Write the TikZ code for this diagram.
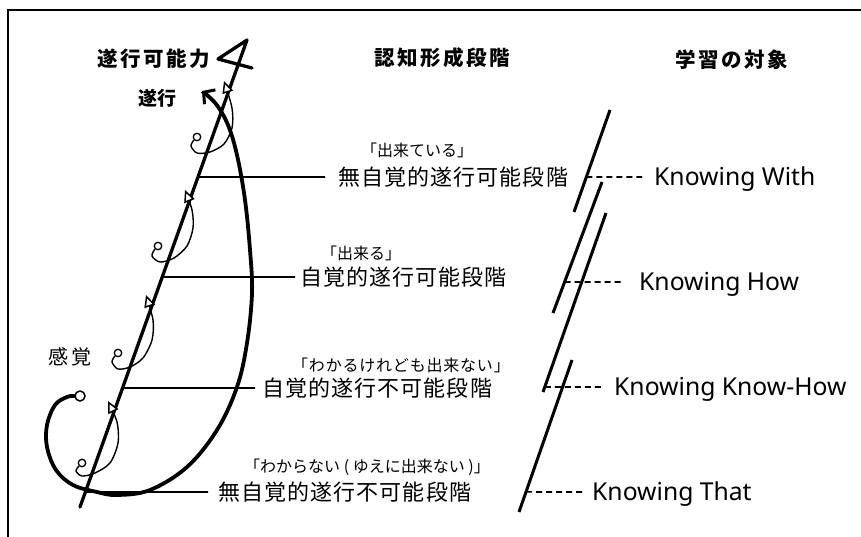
\documentclass[tikz,border=0pt]{standalone}
\usepackage{fontspec}
\setmainfont{Noto Sans}
\newfontfamily\jp{Noto Sans CJK JP}
\newfontfamily\jpls[LetterSpace=5]{Noto Sans CJK JP}
\newfontfamily\jpwide[LetterSpace=12]{Noto Sans CJK JP}
\newfontfamily\jphdr[LetterSpace=12]{Noto Sans CJK JP}
\usetikzlibrary{arrows.meta,calc}
\begin{document}
\begin{tikzpicture}[x=1pt,y=-1pt,
  hdr/.style={font=\jphdr\bfseries\fontsize{20.5}{24}\selectfont, inner sep=0},
  stage/.style={font=\jpls\fontsize{22}{26}\selectfont, inner sep=0, anchor=west},
  quote/.style={font=\jp\fontsize{16}{19}\selectfont, inner sep=0, anchor=west},
  know/.style={font=\fontsize{24.7}{28}\selectfont, inner sep=0, anchor=west, text height=17.5pt, text depth=0pt},
  hline/.style={line width=1.8pt},
  slash/.style={line width=3pt},
  dashline/.style={line width=1.6pt, dash pattern=on 6pt off 4pt},
  loopline/.style={line width=1.4pt, -{Triangle[open,length=12pt,width=11pt,fill=white,line width=1.5pt]}},
  ring/.style={circle, draw, line width=1.3pt, fill=white, inner sep=0, minimum size=7.5pt},
]
\useasboundingbox (0,0) rectangle (861,537);
% frame
\draw[line width=2pt] (8,537) -- (8,10) -- (861,10);

% headers
\node[hdr] (h1) at (154,59) {遂行可能力};
\node[hdr] (h2) at (442,58) {認知形成段階};
\node[hdr] (h3) at (732,60) {学習の対象};
\node[font=\jp\bfseries\fontsize{19}{22}\selectfont, inner sep=0] (sk) at (157,98) {遂行};
\node[font=\jpwide\fontsize{20}{24}\selectfont, inner sep=0] (kk) at (70,357) {感覚};

% main diagonal
\coordinate (dbot) at (80,507);
\coordinate (dtop) at (247,40);
\coordinate (dhook) at (218,59);
\coordinate (dhookend) at (252,68);
\draw[line width=3.3pt, line join=round, line cap=round] (dbot) -- (dtop) -- (dhook) -- (dhookend);

% stage labels
\node[stage] (s1) at (338,177) {無自覚的遂行可能段階};
\node[quote] (q1) at (361,150) {「出来ている」};
\node[stage] (s2) at (300,277) {自覚的遂行可能段階};
\node[quote] (q2) at (321,253) {「出来る」};
\node[stage] (s3) at (262,388) {自覚的遂行不可能段階};
\node[quote, font=\jpls\fontsize{16}{19}\selectfont] (q3) at (292,365) {「わかるけれども出来ない」};
\node[stage] (s4) at (218,492) {無自覚的遂行不可能段階};
\node[quote] (q4) at (244,467) {「わからない ( ゆえに出来ない )」};

\draw[hline] ($(dbot)!0.7066!(dtop)$) -- ([xshift=-13pt]s1.west);
\draw[hline] ($(dbot)!0.4925!(dtop)$) -- ([xshift=-5pt]s2.west);
\draw[hline] ($(dbot)!0.2548!(dtop)$) -- ([xshift=-7pt]s3.west);
\draw[hline] ($(dbot)!0.032!(dtop)$) -- ([xshift=-10pt]s4.west);

% big curve
\node[ring, minimum size=10pt, line width=1.5pt] (bc) at (80,396) {};
\draw[line width=3.8pt, line cap=round, -{Straight Barb[length=8pt,width=18pt,line width=3pt]}]
  plot[smooth, tension=0.6] coordinates {(bc.west) (67,397) (55,405) (47,425) (47,447) (56,470) (73,485) (97,492) (117,495) (150,490) (187,467) (217,430) (237,387) (247,343) (252,293) (250,250) (245,200) (237,155) (228,125) (216,104) (202,91)};

% small loops
\node[ring] (c1) at (82,463) {};
\draw[loopline] plot[smooth] coordinates {(c1.south west) (76,471) (82,476) (95,473) (110,463) (118,443) (117,422) (108,401)};
\node[ring] (c2) at (118,353) {};
\draw[loopline] plot[smooth] coordinates {(c2.south west) (112,362) (118,369) (130,367) (143,358) (152,340) (153,320) (146,295)};
\node[ring] (c3) at (158,246) {};
\draw[loopline] plot[smooth] coordinates {(c3.south west) (152,256) (160,262) (174,258) (187,246) (193,228) (192,210) (185,190)};
\node[ring] (c4) at (197,137) {};
\draw[loopline] plot[smooth] coordinates {(c4.south west) (191,146) (197,153) (210,152) (224,144) (232,128) (232,108) (224,81)};

% right slashes
\coordinate (a1) at (610,110); \coordinate (b1) at (574,212);
\coordinate (a2) at (602,182); \coordinate (b2) at (553,313);
\coordinate (a3) at (606,213); \coordinate (b3) at (543,392);
\coordinate (a4) at (572,360); \coordinate (b4) at (519,512);
\draw[slash] (a1) -- (b1);
\draw[slash] (a2) -- (b2);
\draw[slash] (a3) -- (b3);
\draw[slash] (a4) -- (b4);

% knowing labels
\node[know] (k1) at (654,177) {Knowing With};
\node[know] (k2) at (639,282) {Knowing How};
\node[know] (k3) at (614,387) {Knowing Know-How};
\node[know] (k4) at (592,492) {Knowing That};

\draw[dashline] ($(a1)!0.657!(b1)$) -- ([xshift=-12pt]k1.west);
\draw[dashline] ($(a2)!0.763!(b2)$) -- ([xshift=-17pt]k2.west);
\draw[dashline] ($(a3)!0.972!(b3)$) -- ([xshift=-11pt]k3.west);
\draw[dashline] ($(a4)!0.868!(b4)$) -- ([xshift=-9pt]k4.west);
\end{tikzpicture}
\end{document}
